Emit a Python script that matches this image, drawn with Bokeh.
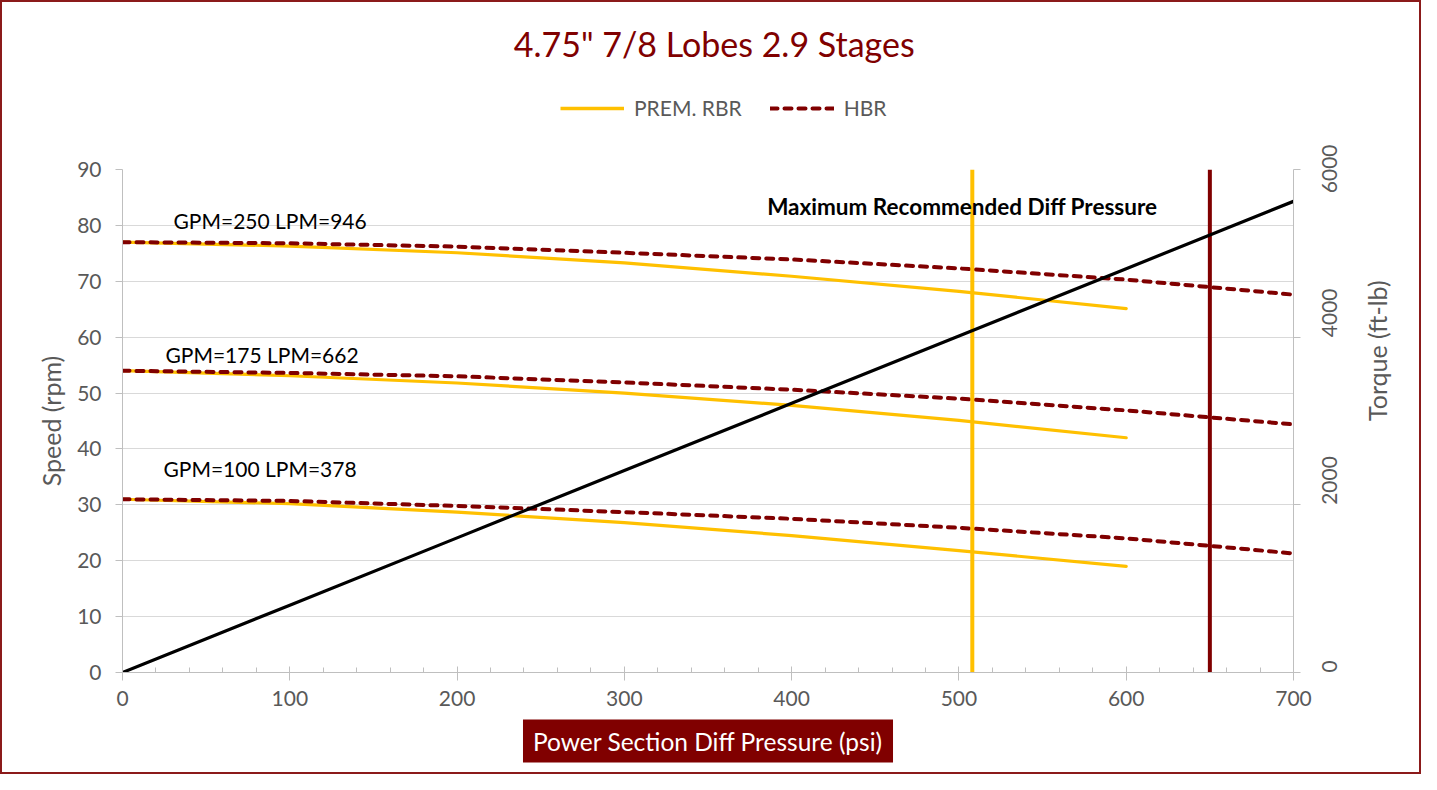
import math
from bokeh.plotting import figure
from bokeh.layouts import column
from bokeh.models import Range1d, LinearAxis, FixedTicker, Label, Legend, LegendItem, Title
from bokeh.embed import file_html
from bokeh.resources import INLINE

# ---------------- data ----------------
pressure_rbr = [0, 100, 200, 300, 400, 500, 600]
pressure_hbr = [0, 100, 200, 300, 400, 500, 600, 700]

rbr_250 = [77.0, 76.3, 75.1, 73.3, 70.9, 68.2, 65.1]
rbr_175 = [54.0, 53.1, 51.8, 50.0, 47.8, 45.1, 42.0]
rbr_100 = [31.0, 30.2, 28.7, 26.8, 24.5, 21.8, 19.0]

hbr_250 = [77.0, 76.8, 76.2, 75.1, 73.9, 72.3, 70.3, 67.6]
hbr_175 = [54.0, 53.6, 53.0, 51.9, 50.6, 49.0, 46.9, 44.4]
hbr_100 = [31.0, 30.7, 29.8, 28.7, 27.5, 25.9, 24.0, 21.3]

torque_pressure = [0, 100, 200, 300, 400, 500, 600, 700]
torque = [0, 803, 1606, 2409, 3211, 4014, 4817, 5620]

rbr_max_pressure = 508
hbr_max_pressure = 650

flow_labels = ["GPM=250 LPM=946", "GPM=175 LPM=662", "GPM=100 LPM=378"]
flow_label_x = [30.5, 25.7, 24.5]
flow_label_y = [80.9, 56.9, 36.5]

x_ticks = [0, 100, 200, 300, 400, 500, 600, 700]
x_minor = list(range(0, 701, 20))
y_ticks = [0, 10, 20, 30, 40, 50, 60, 70, 80, 90]
torque_ticks = [0, 2000, 4000, 6000]

title_text = '4.75" 7/8 Lobes 2.9 Stages'
legend_labels = ["PREM. RBR", "HBR"]
x_label = "Power Section Diff Pressure (psi)"
y_label = "Speed (rpm)"
y2_label = "Torque (ft-lb)"
max_label = "Maximum Recommended Diff Pressure"

# ---------------- style ----------------
FONT = "Lato"
DARKRED = "#800000"
YELLOW = "#FFC000"
GRAY_TXT = "#595959"
GRID = "#D9D9D9"
AXIS = "#BFBFBF"
W = 1417
HEAD_H = 142
MAIN_H = 628
DASH = "7 7"

# ---------------- header (title + legend) ----------------
h = figure(width=W, height=HEAD_H, x_range=Range1d(0, W), y_range=Range1d(0, HEAD_H),
           x_axis_location=None, y_axis_location=None,
           output_backend="svg", toolbar_location=None, min_border=0)
h.outline_line_color = None
h.xgrid.grid_line_color = None
h.ygrid.grid_line_color = None

h.add_layout(Label(x=716, y=101, text=title_text, text_font=FONT, text_font_size="34px",
                   text_color=DARKRED, text_baseline="middle", text_align="center"))

# legend swatch renderers (hidden in the header; they only lend their style to the legend)
sw_rbr = h.line(pressure_rbr, rbr_250, line_color=YELLOW, line_width=3.5, visible=False)
sw_hbr = h.line(pressure_hbr, hbr_250, line_color=DARKRED, line_width=4,
                line_dash=DASH, line_cap="round", visible=False)
legend = Legend(items=[LegendItem(label=legend_labels[0], renderers=[sw_rbr]),
                       LegendItem(label=legend_labels[1], renderers=[sw_hbr])],
                location=(438, 24), orientation="horizontal",
                glyph_width=64, glyph_height=20, label_height=20,
                label_standoff=10, spacing=28, padding=0, margin=0,
                border_line_color=None, background_fill_alpha=0,
                inactive_fill_alpha=0,
                label_text_font=FONT, label_text_font_size="21px",
                label_text_color=GRAY_TXT)
h.add_layout(legend)

# ---------------- main chart ----------------
p = figure(width=W, height=MAIN_H,
           x_range=Range1d(0, 700), y_range=Range1d(0, 90),
           output_backend="svg", toolbar_location=None,
           min_border_left=120, min_border_right=126,
           min_border_top=25, min_border_bottom=100)
p.outline_line_color = None
p.extra_y_ranges = {"torque": Range1d(0, 6000)}

p.xgrid.grid_line_color = None
p.ygrid.grid_line_color = GRID
p.ygrid.grid_line_width = 1

xa = p.xaxis[0]
xa.ticker = FixedTicker(ticks=x_ticks, minor_ticks=x_minor)
xa.axis_line_color = AXIS
xa.major_tick_line_color = AXIS
xa.minor_tick_line_color = AXIS
xa.major_tick_in = 6
xa.major_tick_out = 8
xa.minor_tick_in = 5
xa.minor_tick_out = 0
xa.major_label_text_font = FONT
xa.major_label_text_font_size = "21px"
xa.major_label_text_color = GRAY_TXT
xa.major_label_standoff = 10

ya = p.yaxis[0]
ya.ticker = FixedTicker(ticks=y_ticks)
ya.axis_line_color = AXIS
ya.major_tick_line_color = AXIS
ya.minor_tick_line_color = None
ya.major_tick_in = 0
ya.major_tick_out = 7
ya.major_label_text_font = FONT
ya.major_label_text_font_size = "21px"
ya.major_label_text_color = GRAY_TXT
ya.major_label_standoff = 14
ya.axis_label = y_label
ya.axis_label_text_font = FONT
ya.axis_label_text_font_size = "25px"
ya.axis_label_text_font_style = "normal"
ya.axis_label_text_color = GRAY_TXT
ya.axis_label_standoff = 8

ra = LinearAxis(y_range_name="torque", ticker=FixedTicker(ticks=torque_ticks))
ra.axis_line_color = AXIS
ra.major_tick_line_color = AXIS
ra.minor_tick_line_color = None
ra.major_tick_in = 0
ra.major_tick_out = 7
ra.major_label_orientation = math.pi / 2
ra.major_label_text_font = FONT
ra.major_label_text_font_size = "21px"
ra.major_label_text_color = GRAY_TXT
ra.major_label_standoff = 29
ra.axis_label = y2_label
ra.axis_label_orientation = math.pi / 2
ra.axis_label_text_font = FONT
ra.axis_label_text_font_size = "25px"
ra.axis_label_text_font_style = "normal"
ra.axis_label_text_color = GRAY_TXT
ra.axis_label_standoff = 29
p.add_layout(ra, "right")

for ys in (rbr_250, rbr_175, rbr_100):
    p.line(pressure_rbr, ys, line_color=YELLOW, line_width=3.2, line_cap="round")
for ys in (hbr_250, hbr_175, hbr_100):
    p.line(pressure_hbr, ys, line_color=DARKRED, line_width=4,
           line_dash=DASH, line_cap="round")

p.line([rbr_max_pressure, rbr_max_pressure], [0, 90], line_color=YELLOW, line_width=4)
p.line([hbr_max_pressure, hbr_max_pressure], [0, 90], line_color=DARKRED, line_width=4)

p.line(torque_pressure, torque, y_range_name="torque", line_color="black", line_width=3.2)

for t, lx, ly in zip(flow_labels, flow_label_x, flow_label_y):
    p.add_layout(Label(x=lx, y=ly, text=t, text_font=FONT, text_font_size="21px",
                       text_color="black", text_baseline="middle", text_align="left"))

p.add_layout(Label(x=502, y=83.4, text=max_label, text_font=FONT, text_font_size="22.5px",
                   text_font_style="bold", text_color="black",
                   text_baseline="middle", text_align="center"))

xlab = Title(text=x_label, align="center", text_font=FONT, text_font_size="24.5px",
             text_font_style="normal", text_color="white",
             background_fill_color=DARKRED, standoff=18, padding=(10, 7))
p.add_layout(xlab, "below")

layout = column(h, p, spacing=0, styles={"border": "2px solid #8B1A1A"})

open("out.html", "w").write(file_html(layout, INLINE))
